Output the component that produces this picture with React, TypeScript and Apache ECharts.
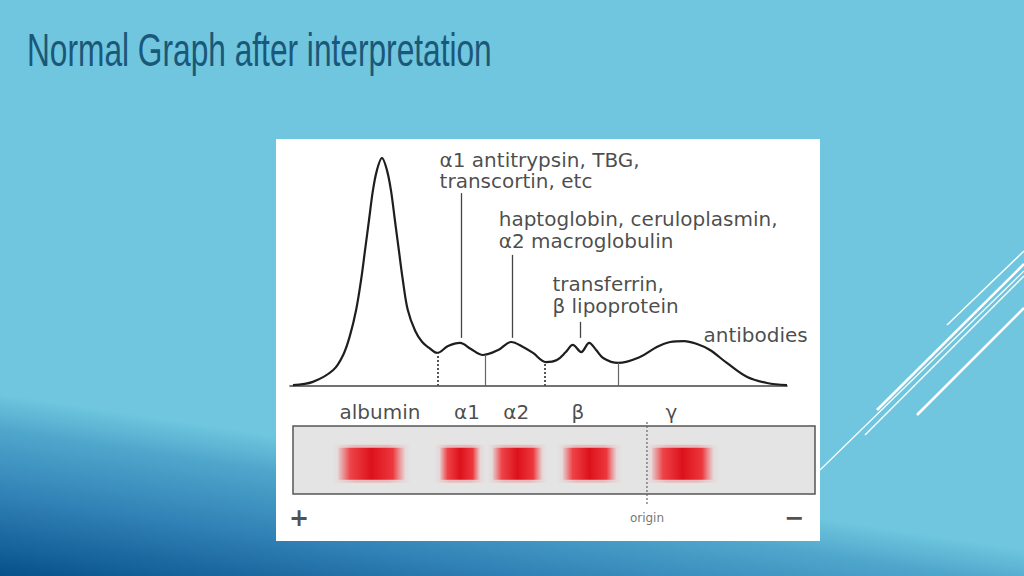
import React, { useEffect, useRef } from "react";
import * as echarts from "echarts";

// ---------- content ----------
const TITLE = "Normal Graph after interpretation";

// densitometer trace: relative mobility (0 = anode end, 100 = cathode end)
// against relative absorbance (% of the albumin peak)
const traceMobility = [
  0.6, 4.6, 8.7, 10.7, 12.1, 13.3, 14.3, 15.1, 15.9, 16.7,
  17.5, 18.5, 19.5, 20.3, 21.1, 21.9, 22.7, 23.7, 25.2, 26.6,
  28.0, 29.6, 31.8, 34.2, 36.4, 38.8, 41.9, 44.5, 46.9, 48.9,
  51.5, 53.7, 55.5, 56.9, 58.6, 60.2, 61.6, 63.0, 66.0, 70.4,
  73.8, 76.5, 79.3, 81.9, 84.5, 87.9, 92.0, 96.0, 100,
];
const traceAbsorbance = [
  0.4, 1.8, 7.0, 13.6, 22.4, 33.3, 46.5, 59.6, 72.8, 86.0,
  94.7, 100, 94.7, 86.0, 72.8, 59.6, 46.5, 33.3, 24.1, 19.3,
  16.7, 14.5, 17.5, 18.9, 16.2, 13.6, 15.8, 19.3, 17.1, 14.5,
  10.5, 11.4, 14.9, 18.0, 14.9, 18.9, 15.8, 12.3, 10.1, 12.7,
  17.1, 19.3, 19.7, 18.4, 15.8, 10.1, 3.9, 1.3, 0.4,
];

// fraction boundaries (drop lines from the trace minima to the baseline)
const boundaryMobility = [29.8, 39.2, 51.3, 66.0];
const boundaryTop = [14.5, 13.6, 10.5, 10.1];
const boundaryKind = ["dotted", "solid", "dotted", "solid"];

// pointer lines from the annotations down to the peaks
const pointerMobility = [34.4, 44.7, 58.4];
const pointerBottom = [21.1, 21.1, 21.1];
const pointerTop = [84.6, 57.5, 28.1];

// annotations (left anchor of each text line)
const annotationText = [
  "α1 antitrypsin, TBG,",
  "transcortin, etc",
  "haptoglobin, ceruloplasmin,",
  "α2 macroglobulin",
  "transferrin,",
  "β lipoprotein",
  "antibodies",
];
const annotationMobility = [30.0, 30.0, 41.9, 41.9, 52.7, 52.7, 83.1];
const annotationAbsorbance = [99.3, 89.7, 73.2, 63.6, 44.7, 35.1, 22.4];

// gel strip
const fractions = ["albumin", "α1", "α2", "β", "γ"];
const fractionLabelMobility = [18.1, 35.6, 45.5, 57.9, 76.7];
const bandStart = [9.7, 30.2, 40.8, 54.9, 72.8];
const bandEnd = [23.1, 38.2, 50.7, 65.6, 85.1];
const originMobility = 71.8;
const polarity = ["+", "−"];
const polarityMobility = [1.8, 101.4];

// ---------- layout / style ----------
const FONT = '"DejaVu Sans", sans-serif';
const INK = "#1c1c1c";
const BAND_TOP = 0.68;
const BAND_BOTTOM = 0.21;
const LABEL_ROW = 1.21;
const BELOW_ROW = -0.35;

export default function App() {
  const ref = useRef<HTMLDivElement>(null);

  useEffect(() => {
    const chart = echarts.init(ref.current!, null, { renderer: "svg" });

    const traceData = traceMobility.map((x, i) => [x, traceAbsorbance[i]]);

    const markLines: any[] = [];
    boundaryMobility.forEach((x, i) => {
      const dotted = boundaryKind[i] === "dotted";
      markLines.push([
        {
          coord: [x, 0],
          lineStyle: dotted
            ? { color: "#555", width: 2, type: [2, 2] }
            : { color: "#666", width: 1.2, type: "solid" },
        },
        { coord: [x, boundaryTop[i]] },
      ]);
    });
    pointerMobility.forEach((x, i) => {
      markLines.push([
        { coord: [x, pointerBottom[i]], lineStyle: { color: "#444", width: 1.3, type: "solid" } },
        { coord: [x, pointerTop[i]] },
      ]);
    });

    const bgGradient = new echarts.graphic.LinearGradient(
      0, 576, 27, 398,
      [
        { offset: 0, color: "#07508a" },
        { offset: 0.45, color: "#3182b6" },
        { offset: 0.8, color: "#4fa6cc" },
        { offset: 1, color: "#6fc6de" },
      ],
      true
    );

    const option: any = {
      animation: false,
      backgroundColor: "#6fc6de",
      graphic: [
        {
          type: "rect",
          z: -20,
          shape: { x: 0, y: 360, width: 1024, height: 216 },
          style: { fill: bgGradient },
          silent: true,
        },
        {
          type: "rect",
          z: -10,
          shape: { x: 276, y: 139, width: 544, height: 402 },
          style: { fill: "#ffffff" },
          silent: true,
        },
        // decorative slide lines
        { type: "line", z: -5, shape: { x1: 947, y1: 325, x2: 1024, y2: 251 }, style: { stroke: "#ffffff", lineWidth: 1.4 } },
        { type: "line", z: -5, shape: { x1: 877, y1: 410, x2: 1024, y2: 264 }, style: { stroke: "#ffffff", lineWidth: 2.6 } },
        { type: "line", z: -5, shape: { x1: 820, y1: 470, x2: 1024, y2: 271 }, style: { stroke: "#ffffff", lineWidth: 1.2 } },
        { type: "line", z: -5, shape: { x1: 865, y1: 435, x2: 1024, y2: 276 }, style: { stroke: "#ffffff", lineWidth: 1.4 } },
        { type: "line", z: -5, shape: { x1: 917, y1: 415, x2: 1024, y2: 308 }, style: { stroke: "#ffffff", lineWidth: 2.6 } },
        {
          type: "text",
          x: 27,
          y: 50,
          scaleX: 0.72,
          scaleY: 1.04,
          style: {
            text: TITLE,
            fill: "#1b5778",
            font: '44px "Liberation Sans", sans-serif',
            align: "left",
            verticalAlign: "middle",
          },
        },
      ],
      grid: [
        { left: 290, top: 158, width: 497, height: 228, show: false },
        {
          left: 293,
          top: 426,
          width: 522,
          height: 68,
          show: true,
          backgroundColor: "#e4e4e4",
          borderColor: "#555",
          borderWidth: 1.5,
        },
      ],
      xAxis: [
        {
          type: "value",
          gridIndex: 0,
          min: 0,
          max: 100,
          axisLine: { show: true, onZero: false, lineStyle: { color: "#444", width: 1.6 } },
          axisTick: { show: false },
          axisLabel: { show: false },
          splitLine: { show: false },
        },
        {
          type: "value",
          gridIndex: 1,
          min: 0.6,
          max: 105.6,
          show: false,
        },
      ],
      yAxis: [
        { type: "value", gridIndex: 0, min: 0, max: 100, show: false },
        { type: "value", gridIndex: 1, min: 0, max: 1, show: false },
      ],
      series: [
        {
          type: "line",
          xAxisIndex: 0,
          yAxisIndex: 0,
          data: traceData,
          smooth: 0.35,
          symbol: "none",
          lineStyle: { color: "#1e1e1e", width: 2.2 },
          markLine: {
            silent: true,
            symbol: ["none", "none"],
            label: { show: false },
            data: markLines,
          },
          z: 3,
        },
        {
          type: "scatter",
          xAxisIndex: 0,
          yAxisIndex: 0,
          clip: false,
          symbolSize: 1,
          itemStyle: { color: "rgba(0,0,0,0)" },
          data: annotationText.map((t, i) => ({
            name: t,
            value: [annotationMobility[i], annotationAbsorbance[i]],
          })),
          label: {
            show: true,
            position: "right",
            distance: 0,
            formatter: "{b}",
            color: INK,
            fontFamily: FONT,
            fontSize: 20,
            lineHeight: 19,
          },
        },
        {
          type: "custom",
          xAxisIndex: 1,
          yAxisIndex: 1,
          clip: false,
          data: bandStart.map((s, i) => [s, bandEnd[i]]),
          renderItem: (params: any, api: any) => {
            const p0 = api.coord([api.value(0), BAND_TOP]);
            const p1 = api.coord([api.value(1), BAND_BOTTOM]);
            const w = p1[0] - p0[0];
            const h = p1[1] - p0[1];
            return {
              type: "group",
              children: [
                {
                  type: "rect",
                  shape: { x: p0[0] - 6, y: p0[1] - 3, width: w + 12, height: h + 6 },
                  style: {
                    fill: new echarts.graphic.LinearGradient(0, 0, 1, 0, [
                      { offset: 0, color: "rgba(240,120,125,0)" },
                      { offset: 0.3, color: "rgba(240,110,115,0.35)" },
                      { offset: 0.7, color: "rgba(240,110,115,0.35)" },
                      { offset: 1, color: "rgba(240,120,125,0)" },
                    ]),
                  },
                },
                {
                  type: "rect",
                  shape: { x: p0[0], y: p0[1], width: w, height: h },
                  style: {
                    fill: new echarts.graphic.LinearGradient(0, 0, 1, 0, [
                      { offset: 0, color: "rgba(240,70,75,0.1)" },
                      { offset: 0.18, color: "rgba(238,45,50,0.85)" },
                      { offset: 0.5, color: "#dc111b" },
                      { offset: 0.82, color: "rgba(236,40,46,0.9)" },
                      { offset: 1, color: "rgba(240,80,85,0.05)" },
                    ]),
                  },
                },
              ],
            };
          },
          z: 3,
        },
        {
          type: "custom",
          xAxisIndex: 1,
          yAxisIndex: 1,
          clip: false,
          data: [[originMobility]],
          renderItem: (params: any, api: any) => {
            const top = api.coord([api.value(0), 1.06]);
            const bot = api.coord([api.value(0), -0.17]);
            const lab = api.coord([api.value(0), BELOW_ROW]);
            return {
              type: "group",
              children: [
                {
                  type: "line",
                  shape: { x1: top[0], y1: top[1], x2: bot[0], y2: bot[1] },
                  style: { stroke: "#666", lineWidth: 1.2, lineDash: [2, 2] },
                },
                {
                  type: "text",
                  x: lab[0],
                  y: lab[1],
                  style: {
                    text: "origin",
                    fill: "#777",
                    font: '12px "DejaVu Sans"',
                    align: "center",
                    verticalAlign: "middle",
                  },
                },
              ],
            };
          },
          z: 4,
        },
        {
          type: "scatter",
          xAxisIndex: 1,
          yAxisIndex: 1,
          clip: false,
          symbolSize: 1,
          itemStyle: { color: "rgba(0,0,0,0)" },
          data: fractions.map((f, i) => ({ name: f, value: [fractionLabelMobility[i], LABEL_ROW] })),
          label: {
            show: true,
            position: "inside",
            formatter: "{b}",
            color: "#1c1c1c",
            fontFamily: FONT,
            fontSize: 20,
          },
        },
        {
          type: "scatter",
          xAxisIndex: 1,
          yAxisIndex: 1,
          clip: false,
          symbolSize: 1,
          itemStyle: { color: "rgba(0,0,0,0)" },
          data: polarity.map((p, i) => ({ name: p, value: [polarityMobility[i], BELOW_ROW] })),
          label: {
            show: true,
            position: "inside",
            formatter: "{b}",
            color: "#222",
            fontFamily: FONT,
            fontWeight: "bold",
            fontSize: 24,
          },
        },
      ],
    };

    chart.setOption(option);
    return () => chart.dispose();
  }, []);

  return (
    <div
      ref={ref}
      style={{ position: "fixed", left: 0, top: 0, width: 1024, height: 576 }}
    />
  );
}
